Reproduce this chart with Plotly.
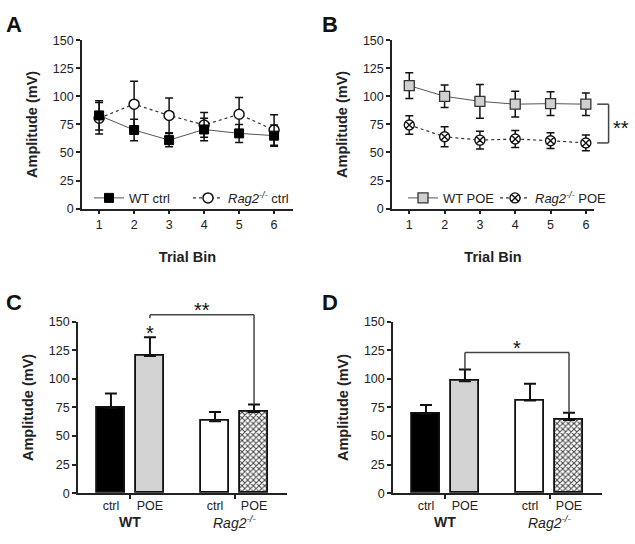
import plotly.graph_objects as go

# ---------------- data ----------------
bins = [1, 2, 3, 4, 5, 6]

wt_ctrl = [83, 70, 61, 70.5, 67, 65]
wt_ctrl_err = [13, 9.5, 6, 10, 8, 9.5]
rag_ctrl = [80.5, 93, 83, 74.5, 84, 70]
rag_ctrl_err = [14, 20.5, 15.5, 11, 15, 13.5]

wt_poe = [109.5, 100, 95.5, 93, 93.5, 93]
wt_poe_err = [11.5, 10, 15, 11.5, 10.5, 10]
rag_poe = [74.5, 64, 61, 62, 60.5, 58.5]
rag_poe_err = [8.3, 9, 8, 7.5, 7, 7]

bar_labels = ["ctrl", "POE", "ctrl", "POE"]
bar_x = [1, 2, 3.67, 4.67]
group_labels = ["<b>WT</b>", "<i>Rag2<sup>-/-</sup></i>"]
group_x = [1.5, 4.17]

c_vals = [74.5, 120, 63, 71]
c_err = [12.7, 16.5, 8, 6.5]
d_vals = [69.5, 98, 81, 64]
d_err = [7.7, 10.2, 14.7, 6.3]

bar_colors = ["#000000", "#d3d3d3", "#ffffff", "#ffffff"]
bar_patterns = ["", "", "", "x"]

y_ticks = [0, 25, 50, 75, 100, 125, 150]

# ---------------- layout geometry ----------------
W, H = 635, 544
FONT = "Liberation Sans, Arial, sans-serif"
INK = "#222222"

dom = {
    "A": dict(x=[0.1291, 0.4614], y=[0.6195, 0.9375], xr=[0.51, 6.54]),
    "B": dict(x=[0.6173, 0.9354], y=[0.6195, 0.9375], xr=[0.51, 6.23]),
    "C": dict(x=[0.1228, 0.4520], y=[0.0827, 0.4062], xr=[0.154, 5.516]),
    "D": dict(x=[0.6189, 0.9480], y=[0.0827, 0.4062], xr=[0.154, 5.516]),
}
YR = [0, 150]


def to_px(p, xv):
    d = dom[p]
    r0, r1 = d["xr"]
    return d["x"][0] + (xv - r0) / (r1 - r0) * (d["x"][1] - d["x"][0])


def to_py(p, yv):
    d = dom[p]
    return d["y"][0] + (yv - YR[0]) / (YR[1] - YR[0]) * (d["y"][1] - d["y"][0])


fig = go.Figure()

err_style = dict(type="data", visible=True, color="#111111", thickness=1.5, width=4)

# ---- Panel A ----
fig.add_trace(go.Scatter(
    x=bins, y=rag_ctrl, name="<i>Rag2<sup>-/-</sup></i> ctrl", mode="lines+markers",
    line=dict(color="#333333", width=1.2, dash="dot"),
    marker=dict(symbol="circle", size=10, color="white", line=dict(color="#111111", width=1.5)),
    error_y=dict(array=rag_ctrl_err, **err_style),
    xaxis="x", yaxis="y", legend="legend2"))
fig.add_trace(go.Scatter(
    x=bins, y=wt_ctrl, name="WT ctrl", mode="lines+markers",
    line=dict(color="#555555", width=1),
    marker=dict(symbol="square", size=9, color="#000000", line=dict(color="#000000", width=1)),
    error_y=dict(array=wt_ctrl_err, **err_style),
    xaxis="x", yaxis="y", legend="legend"))

# ---- Panel B ----
fig.add_trace(go.Scatter(
    x=bins, y=wt_poe, name="WT POE", mode="lines+markers",
    line=dict(color="#555555", width=1),
    marker=dict(symbol="square", size=10, color="#d0d0d0", line=dict(color="#333333", width=1.3)),
    error_y=dict(array=wt_poe_err, **err_style),
    xaxis="x2", yaxis="y2", legend="legend3"))
fig.add_trace(go.Scatter(
    x=bins, y=rag_poe, name="<i>Rag2<sup>-/-</sup></i> POE", mode="lines+markers",
    line=dict(color="#333333", width=1.2, dash="dot"),
    marker=dict(symbol="circle-x", size=10, color="white", line=dict(color="#111111", width=1.4)),
    error_y=dict(array=rag_poe_err, **err_style),
    xaxis="x2", yaxis="y2", legend="legend4"))

# ---- Panels C & D (bars) ----
for vals, errs, xa, ya in [(c_vals, c_err, "x3", "y3"), (d_vals, d_err, "x4", "y4")]:
    fig.add_trace(go.Bar(
        x=bar_x, y=vals, width=0.72, showlegend=False,
        marker=dict(color=bar_colors, line=dict(color="#111111", width=1.8),
                    pattern=dict(shape=bar_patterns, fgcolor="#000000", fgopacity=1,
                                 fillmode="overlay", size=4, solidity=0.45)),
        error_y=dict(type="data", array=errs, arrayminus=[0] * len(errs), symmetric=False,
                     color="#111111", thickness=2, width=6),
        xaxis=xa, yaxis=ya))

# ---------------- axes ----------------
base = dict(showline=True, linecolor=INK, linewidth=1.5, ticks="outside", ticklen=4,
            tickwidth=1.5, tickcolor=INK, showgrid=False, zeroline=False,
            tickfont=dict(family=FONT, size=12.5, color=INK))
ytitle = dict(text="Amplitude (mV)", font=dict(family=FONT, size=14.5, color=INK, weight="bold"),
              standoff=12)
xtitle = dict(text="Trial Bin", font=dict(family=FONT, size=14.5, color=INK, weight="bold"),
              standoff=20)

layout_axes = {}
for i, p in enumerate(["A", "B", "C", "D"]):
    n = "" if i == 0 else str(i + 1)
    d = dom[p]
    ya = dict(base, domain=d["y"], range=YR, tickvals=y_ticks, anchor="x" + n, title=ytitle)
    if p in ("A", "B"):
        xa = dict(base, domain=d["x"], range=d["xr"], tickvals=bins, anchor="y" + n, title=xtitle)
    else:
        xa = dict(base, domain=d["x"], range=d["xr"], tickvals=bar_x, ticktext=bar_labels,
                  ticks="", anchor="y" + n,
                  minor=dict(tickvals=group_x, ticks="outside", ticklen=4, tickwidth=1.5,
                             tickcolor=INK))
    layout_axes["xaxis" + n] = xa
    layout_axes["yaxis" + n] = ya

fig.update_layout(**layout_axes)

# ---------------- legends (one entry each) ----------------
leg_common = dict(orientation="h", xanchor="left", yanchor="middle", bgcolor="rgba(0,0,0,0)",
                  font=dict(family=FONT, size=13, color=INK), itemclick=False,
                  y=1 - 196 / H)
fig.update_layout(
    legend=dict(leg_common, x=89 / W),
    legend2=dict(leg_common, x=188 / W),
    legend3=dict(leg_common, x=403 / W),
    legend4=dict(leg_common, x=495 / W),
)

# ---------------- annotations / shapes ----------------
ann = []
shapes = []
for letter, (lx, ly) in {"A": (14, 18), "B": (330, 18), "C": (14, 303), "D": (330, 303)}.items():
    ann.append(dict(text=letter, x=lx / W, y=1 - ly / H, xref="paper", yref="paper",
                    showarrow=False, xanchor="center", yanchor="middle",
                    font=dict(family=FONT, size=22, color="#111111", weight="bold")))

# group labels under bars
for p, xa in [("C", "x3"), ("D", "x4")]:
    for gl, gx in zip(group_labels, group_x):
        ann.append(dict(text=gl, x=gx, xref=xa, y=1 - 529 / H, yref="paper", showarrow=False,
                        xanchor="center", yanchor="middle",
                        font=dict(family=FONT, size=14, color=INK)))

line_style = dict(color="#444444", width=1.5)
star_font = dict(family=FONT, size=20, color="#111111")

# Panel B bracket (**) linking last bin of both series
bx0 = to_px("B", dom["B"]["xr"][1]) + 0.005
bx1 = bx0 + 0.018
yt, yb = to_py("B", wt_poe[-1]), to_py("B", rag_poe[-1])
shapes += [
    dict(type="line", xref="paper", yref="paper", x0=bx0, x1=bx1, y0=yt, y1=yt, line=line_style),
    dict(type="line", xref="paper", yref="paper", x0=bx1, x1=bx1, y0=yt, y1=yb, line=line_style),
    dict(type="line", xref="paper", yref="paper", x0=bx0, x1=bx1, y0=yb, y1=yb, line=line_style),
]
ann.append(dict(text="**", x=bx1 + 0.004, y=(yt + yb) / 2, xref="paper", yref="paper",
                showarrow=False, xanchor="left", yanchor="middle", yshift=-4, font=star_font))

# Panel C bracket WT POE vs Rag2 POE
c_top = 156
shapes += [
    dict(type="line", xref="paper", yref="paper", x0=to_px("C", bar_x[1]), x1=to_px("C", bar_x[3]),
         y0=to_py("C", c_top), y1=to_py("C", c_top), line=line_style),
    dict(type="line", xref="paper", yref="paper", x0=to_px("C", bar_x[1]), x1=to_px("C", bar_x[1]),
         y0=to_py("C", c_top), y1=to_py("C", c_top - 3), line=line_style),
    dict(type="line", xref="paper", yref="paper", x0=to_px("C", bar_x[3]), x1=to_px("C", bar_x[3]),
         y0=to_py("C", c_top), y1=to_py("C", c_vals[3] + c_err[3]), line=line_style),
]
ann.append(dict(text="**", x=to_px("C", (bar_x[1] + bar_x[3]) / 2), y=to_py("C", c_top),
                xref="paper", yref="paper", showarrow=False, xanchor="center", yanchor="bottom",
                yshift=-8, font=star_font))
ann.append(dict(text="*", x=to_px("C", bar_x[1]), y=to_py("C", c_vals[1] + c_err[1]),
                xref="paper", yref="paper", showarrow=False, xanchor="center", yanchor="bottom",
                yshift=-9, font=star_font))

# Panel D bracket
d_top = 123
shapes += [
    dict(type="line", xref="paper", yref="paper", x0=to_px("D", bar_x[1]), x1=to_px("D", bar_x[3]),
         y0=to_py("D", d_top), y1=to_py("D", d_top), line=line_style),
    dict(type="line", xref="paper", yref="paper", x0=to_px("D", bar_x[1]), x1=to_px("D", bar_x[1]),
         y0=to_py("D", d_top), y1=to_py("D", d_vals[1] + d_err[1]), line=line_style),
    dict(type="line", xref="paper", yref="paper", x0=to_px("D", bar_x[3]), x1=to_px("D", bar_x[3]),
         y0=to_py("D", d_top), y1=to_py("D", d_vals[3] + d_err[3]), line=line_style),
]
ann.append(dict(text="*", x=to_px("D", (bar_x[1] + bar_x[3]) / 2), y=to_py("D", d_top),
                xref="paper", yref="paper", showarrow=False, xanchor="center", yanchor="bottom",
                yshift=-8, font=star_font))

fig.update_layout(
    width=W, height=H, margin=dict(l=0, r=0, t=0, b=0),
    paper_bgcolor="white", plot_bgcolor="white",
    font=dict(family=FONT, color=INK),
    annotations=ann, shapes=shapes, bargap=0,
)

fig.write_html("out.html", config={"displayModeBar": False},
               post_script="document.body.style.margin='0px';")
